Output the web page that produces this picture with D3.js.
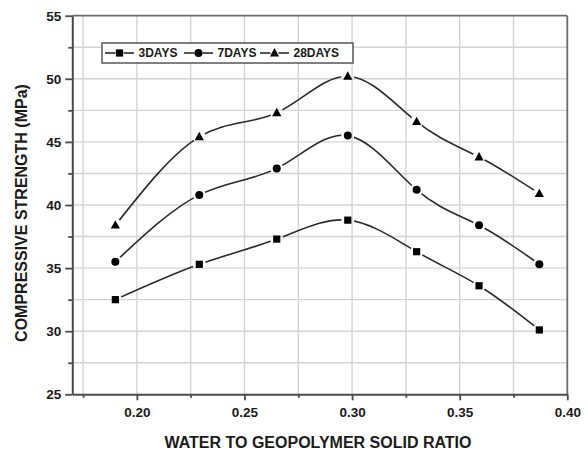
<!DOCTYPE html>
<html>
<head>
<meta charset="utf-8">
<script src="https://cdn.jsdelivr.net/npm/d3@7"></script>
<style>
  html, body { margin: 0; padding: 0; background: #fff; }
  svg { display: block; }
  text { font-family: "Liberation Sans", Arial, sans-serif; font-weight: bold; fill: #1a1a1a; }
</style>
</head>
<body>
<svg id="chart" width="588" height="452"></svg>
<script>
// Water / geopolymer-solid ratio for each mix
const ratios = [0.190, 0.229, 0.265, 0.298, 0.330, 0.359, 0.387];

// Compressive strength (MPa) at each curing age
const days3  = [32.5, 35.3, 37.3, 38.8, 36.3, 33.6, 30.1];
const days7  = [35.5, 40.8, 42.9, 45.5, 41.2, 38.4, 35.3];
const days28 = [38.4, 45.4, 47.3, 50.2, 46.6, 43.8, 40.9];

const seriesNames = ["3DAYS", "7DAYS", "28DAYS"];
const seriesShapes = ["square", "circle", "triangle"];

const xTicks = [0.20, 0.25, 0.30, 0.35, 0.40];
const xMinorTicks = [0.175, 0.225, 0.275, 0.325, 0.375];
const yTicks = [25, 30, 35, 40, 45, 50, 55];
const yMinorTicks = [27.5, 32.5, 37.5, 42.5, 47.5, 52.5];

const xTitle = "WATER TO GEOPOLYMER SOLID RATIO";
const yTitle = "COMPRESSIVE STRENGTH (MPa)";

const svg = d3.select("#chart");
const plotLeft = 72.3, plotRight = 567.3, plotTop = 15.7, plotBottom = 394.3;

const x = d3.scaleLinear().domain([0.17, 0.40]).range([plotLeft, plotRight]);
const y = d3.scaleLinear().domain([25, 55]).range([plotBottom, plotTop]);

const axisColor = "#4a4a4a";
const gridColor = "#d4d4d4";

// grid
const g = svg.append("g");
g.selectAll("line.vgrid")
  .data(xTicks.concat(xMinorTicks).filter(d => d < 0.399))
  .join("line")
  .attr("x1", d => x(d)).attr("x2", d => x(d))
  .attr("y1", plotTop).attr("y2", plotBottom)
  .attr("stroke", gridColor).attr("stroke-width", 1.4);
g.selectAll("line.hgrid")
  .data(yTicks.concat(yMinorTicks).filter(d => d > 25 && d < 55))
  .join("line")
  .attr("x1", plotLeft).attr("x2", plotRight)
  .attr("y1", d => y(d)).attr("y2", d => y(d))
  .attr("stroke", gridColor).attr("stroke-width", 1.4);

// frame: top and right
svg.append("line").attr("x1", plotLeft).attr("x2", plotRight).attr("y1", plotTop).attr("y2", plotTop)
  .attr("stroke", "#6a6a6a").attr("stroke-width", 1.8);
svg.append("line").attr("x1", plotRight).attr("x2", plotRight).attr("y1", plotTop).attr("y2", plotBottom)
  .attr("stroke", "#6a6a6a").attr("stroke-width", 1.8);

// bottom axis
svg.append("g").attr("transform", `translate(0,${plotBottom})`)
  .call(d3.axisBottom(x).tickValues(xTicks).tickFormat(d3.format(".2f")).tickSizeInner(6).tickSizeOuter(0).tickPadding(7));
svg.append("g").attr("transform", `translate(0,${plotBottom})`)
  .call(d3.axisBottom(x).tickValues(xMinorTicks).tickFormat("").tickSizeInner(3.5).tickSizeOuter(0))
  .call(a => a.select(".domain").remove());

// left axis
svg.append("g").attr("transform", `translate(${plotLeft},0)`)
  .call(d3.axisLeft(y).tickValues(yTicks).tickFormat(d3.format("d")).tickSizeInner(7).tickSizeOuter(0).tickPadding(4));
svg.append("g").attr("transform", `translate(${plotLeft},0)`)
  .call(d3.axisLeft(y).tickValues(yMinorTicks).tickFormat("").tickSizeInner(4).tickSizeOuter(0))
  .call(a => a.select(".domain").remove());

svg.selectAll(".domain").attr("stroke", axisColor).attr("stroke-width", 2);
svg.selectAll(".tick line").attr("stroke", axisColor).attr("stroke-width", 1.8);
svg.selectAll(".tick text")
  .style("font-family", "'Liberation Sans', Arial, sans-serif")
  .style("font-weight", "bold").style("font-size", "13.5px").attr("fill", "#1a1a1a");

// axis titles
svg.append("text").attr("x", 318).attr("y", 448)
  .attr("text-anchor", "middle").style("font-size", "16px").text(xTitle);
svg.append("text").attr("transform", "translate(27,213) rotate(-90)")
  .attr("text-anchor", "middle").style("font-size", "16px").text(yTitle);

// marker shapes
function drawMarker(sel, shape, cx, cy) {
  if (shape === "square") {
    sel.append("rect").attr("x", cx - 3.6).attr("y", cy - 3.6).attr("width", 7.2).attr("height", 7.2).attr("fill", "#000");
  } else if (shape === "circle") {
    sel.append("circle").attr("cx", cx).attr("cy", cy).attr("r", 4).attr("fill", "#000");
  } else {
    sel.append("path").attr("d", `M${cx},${cy - 5} L${cx + 4.6},${cy + 3.4} L${cx - 4.6},${cy + 3.4} Z`).attr("fill", "#000");
  }
}

const seriesValues = [days3, days7, days28];

// mask leaves a small gap in the curves around every marker
const defs = svg.append("defs");
const mask = defs.append("mask").attr("id", "gapMask").attr("maskUnits", "userSpaceOnUse")
  .attr("x", 0).attr("y", 0).attr("width", 588).attr("height", 452);
mask.append("rect").attr("width", 588).attr("height", 452).attr("fill", "#fff");
seriesValues.forEach(vals => {
  vals.forEach((v, i) => {
    mask.append("circle").attr("cx", x(ratios[i])).attr("cy", y(v)).attr("r", 6.5).attr("fill", "#000");
  });
});

const line = d3.line().x(d => x(d[0])).y(d => y(d[1])).curve(d3.curveNatural);
const curves = svg.append("g").attr("mask", "url(#gapMask)");
seriesValues.forEach(vals => {
  curves.append("path")
    .datum(ratios.map((r, i) => [r, vals[i]]))
    .attr("d", line)
    .attr("fill", "none").attr("stroke", "#2a2a2a").attr("stroke-width", 1.6);
});
const markers = svg.append("g");
seriesValues.forEach((vals, k) => {
  vals.forEach((v, i) => drawMarker(markers, seriesShapes[k], x(ratios[i]), y(v)));
});

// legend
const legend = svg.append("g");
legend.append("rect").attr("x", 102).attr("y", 43).attr("width", 251).attr("height", 20)
  .attr("fill", "#fff").attr("stroke", "#555").attr("stroke-width", 1.5);
const entryStart = [105, 184, 260];
seriesNames.forEach((name, k) => {
  const sx = entryStart[k], cy = 53;
  legend.append("line").attr("x1", sx).attr("x2", sx + 10.5).attr("y1", cy).attr("y2", cy)
    .attr("stroke", "#2a2a2a").attr("stroke-width", 1.6);
  legend.append("line").attr("x1", sx + 18.5).attr("x2", sx + 29).attr("y1", cy).attr("y2", cy)
    .attr("stroke", "#2a2a2a").attr("stroke-width", 1.6);
  drawMarker(legend, seriesShapes[k], sx + 14.5, cy);
  legend.append("text").attr("x", sx + 33.5).attr("y", cy + 4.3)
    .style("font-size", "12px").text(name);
});
</script>
</body>
</html>
